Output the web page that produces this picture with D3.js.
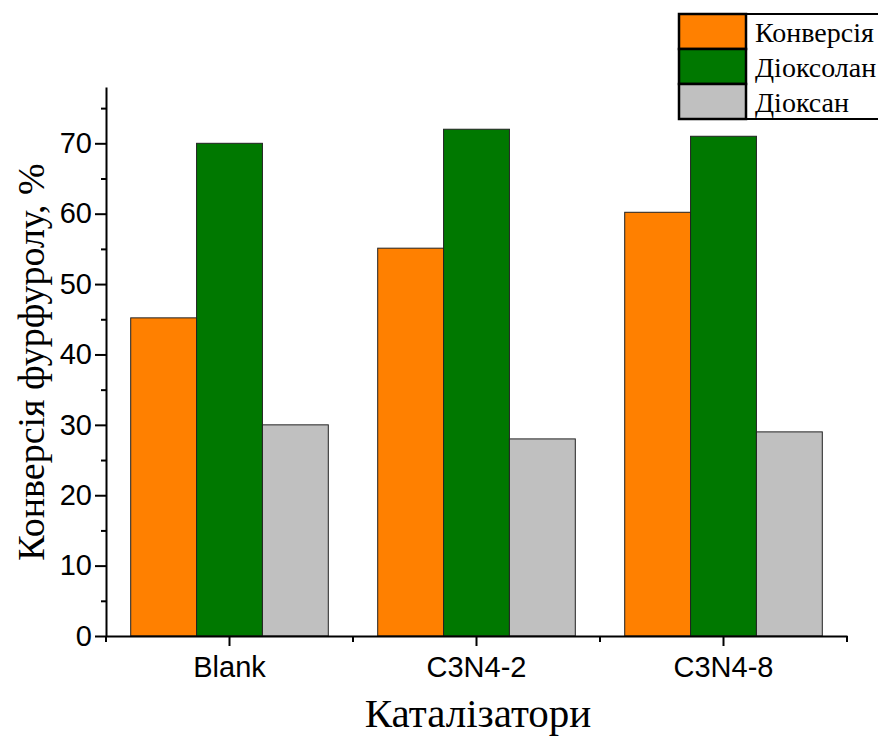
<!DOCTYPE html>
<html>
<head>
  <meta charset="utf-8">
  <script src="https://cdn.jsdelivr.net/npm/d3@7"></script>
  <style>
    body { margin: 0; background: #fff; }
  </style>
</head>
<body>
  <script>
    const w = 878;
    const h = 736;

    // Дані
    const categories = ["Blank", "C3N4-2", "C3N4-8"];
    const seriesNames = ["Конверсія", "Діоксолан", "Діоксан"];
    const konversiya = [45.2, 55.1, 60.2];
    const dioksolan = [70, 72, 71];
    const dioksan = [30, 28, 29];
    const yTicks = [0, 10, 20, 30, 40, 50, 60, 70];
    const yMinorTicks = [5, 15, 25, 35, 45, 55, 65, 75];
    const colors = ["#ff8000", "#007800", "#c0c0c0"];

    const series = [konversiya, dioksolan, dioksan];
    const serif = "'Liberation Serif', 'Times New Roman', serif";
    const sans = "'Liberation Sans', Arial, sans-serif";

    const padL = 106, padR = 847, padT = 87, padB = 636;

    const svg = d3.select("body").append("svg")
      .attr("width", w)
      .attr("height", h);

    const x0 = d3.scaleBand().domain(categories).range([padL, padR]).padding(0);
    const x1 = d3.scaleBand().domain(seriesNames)
      .range([x0.bandwidth() * 0.1, x0.bandwidth() * 0.9]).padding(0);
    const y = d3.scaleLinear().domain([0, 78]).range([padB, padT]);

    // Bars
    const groups = svg.selectAll("g.grp")
      .data(categories)
      .enter().append("g")
      .attr("class", "grp")
      .attr("transform", d => "translate(" + x0(d) + ",0)");

    groups.selectAll("rect")
      .data((c, i) => seriesNames.map((s, j) => ({ s: s, v: series[j][i], c: colors[j] })))
      .enter().append("rect")
      .attr("x", d => x1(d.s))
      .attr("y", d => y(d.v))
      .attr("width", x1.bandwidth())
      .attr("height", d => padB - y(d.v))
      .attr("fill", d => d.c)
      .attr("stroke", "#222")
      .attr("stroke-width", 1);

    // Y-akse
    const yAxis = svg.append("g")
      .attr("transform", "translate(" + padL + ",0)")
      .call(d3.axisLeft(y).tickValues(yTicks).tickSize(11).tickPadding(3).tickSizeOuter(0));
    yAxis.selectAll("text")
      .style("font-family", sans)
      .attr("font-size", 29)
      .attr("fill", "#000");
    svg.append("g")
      .attr("transform", "translate(" + padL + ",0)")
      .call(d3.axisLeft(y).tickValues(yMinorTicks).tickSize(5).tickFormat("").tickSizeOuter(0))
      .select(".domain").remove();

    // X-akse
    const xAxis = svg.append("g")
      .attr("transform", "translate(0," + padB + ")")
      .call(d3.axisBottom(x0).tickSize(10).tickPadding(10).tickSizeOuter(0));
    xAxis.selectAll("text")
      .style("font-family", sans)
      .attr("font-size", 29)
      .attr("fill", "#000");
    // boundary ticks
    const bounds = categories.map(c => x0(c)).concat([padR]);
    svg.append("g")
      .selectAll("line")
      .data(bounds)
      .enter().append("line")
      .attr("x1", d => d).attr("x2", d => d)
      .attr("y1", padB).attr("y2", padB + 6)
      .attr("stroke", "#000").attr("stroke-width", 2);

    svg.selectAll(".domain").attr("stroke", "#000").attr("stroke-width", 2);
    svg.selectAll(".tick line").attr("stroke", "#000").attr("stroke-width", 2);

    // Axis titles
    svg.append("text")
      .attr("x", 478)
      .attr("y", 727)
      .attr("text-anchor", "middle")
      .style("font-family", serif)
      .attr("font-size", 41)
      .text("Каталізатори");

    svg.append("text")
      .attr("transform", "translate(44," + 362 + ") rotate(-90)")
      .attr("text-anchor", "middle")
      .style("font-family", serif)
      .attr("font-size", 38)
      .text("Конверсія фурфуролу, %");

    // Legend
    const lgX = 679, lgY = 14, rowH = 35, swW = 67;
    const legend = svg.append("g");
    legend.append("rect")
      .attr("x", lgX).attr("y", lgY)
      .attr("width", 220).attr("height", rowH * 3)
      .attr("fill", "#fff").attr("stroke", "#000").attr("stroke-width", 2);
    legend.selectAll("rect.sw")
      .data(seriesNames)
      .enter().append("rect")
      .attr("class", "sw")
      .attr("x", lgX)
      .attr("y", (d, i) => lgY + i * rowH)
      .attr("width", swW)
      .attr("height", rowH)
      .attr("fill", (d, i) => colors[i])
      .attr("stroke", "#000")
      .attr("stroke-width", 2.5);
    legend.selectAll("text.lg")
      .data(seriesNames)
      .enter().append("text")
      .attr("class", "lg")
      .attr("x", 755)
      .attr("y", (d, i) => lgY + i * rowH + 28)
      .style("font-family", serif)
      .attr("font-size", 28)
      .text(d => d);
  </script>
</body>
</html>
